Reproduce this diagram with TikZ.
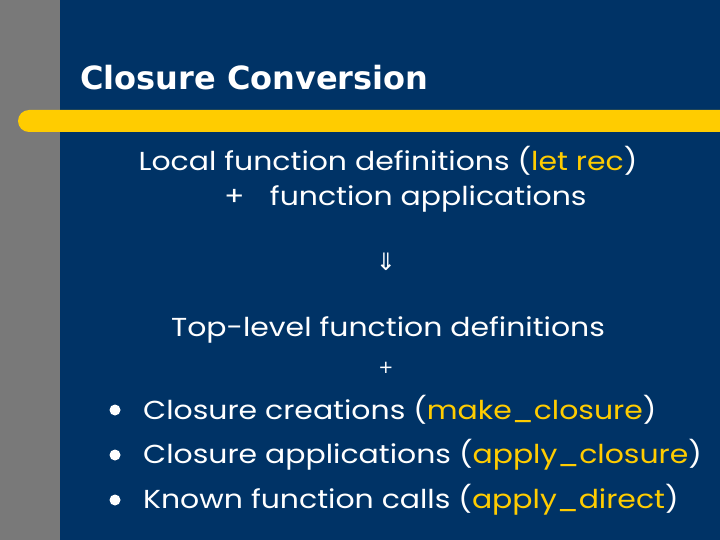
\documentclass[tikz,border=0pt]{standalone}
\usepackage{fontspec}
\setmainfont{DejaVu Sans}
\newfontfamily\bodyfont{Poppins}
\newcommand{\wide}[1]{\scalebox{1.15}[1]{#1}}
\begin{document}
\begin{tikzpicture}[x=1pt,y=-1pt,
  txt/.style={text=white,font=\bodyfont\fontsize{26}{28}\selectfont,inner sep=0pt}]
\definecolor{navy}{HTML}{003366}
\definecolor{gold}{HTML}{FFCC00}
\useasboundingbox (0,0) rectangle (720,540);
\fill[navy] (0,0) rectangle (720,540);
\fill[gray!95!black] (0,0) rectangle (60,540);
\fill[gold,rounded corners=11pt] (18,110) rectangle (740,132);
\node[txt,anchor=west,font=\fontsize{32}{36}\selectfont\bfseries] (title) at (80,78) {Closure Conversion};
\node[txt] (l1) at (388,161) {\wide{Local function definitions (\textcolor{gold}{let rec})}};
\node[txt,anchor=west] (l2) at (224,199) {\wide{+\hspace{22pt}function applications}};
\node[txt,font=\fontsize{24}{28}\selectfont] (arr) at (386,262) {⇓};
\node[txt] (l3) at (388,330) {\wide{Top-level function definitions}};
\node[txt,font=\fontsize{18}{20}\selectfont] (l4) at (386,368) {+};
\foreach \y/\t [count=\i] in {410/{Closure creations (\textcolor{gold}{make\_closure})},455/{Closure applications (\textcolor{gold}{apply\_closure})},500/{Known function calls (\textcolor{gold}{apply\_direct})}}{
  \fill[white] (115,\y) circle (5.5);
  \node[txt,anchor=west] (b\i) at (143,\y) {\wide{\t}};
}
\end{tikzpicture}
\end{document}
